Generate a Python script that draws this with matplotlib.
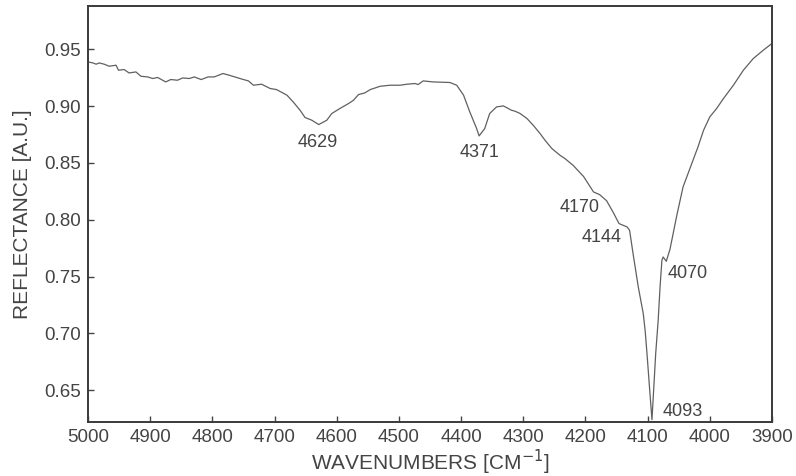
import matplotlib
matplotlib.use("Agg")
import matplotlib.pyplot as plt

# Reflectance spectrum (wavenumber in cm^-1, reflectance in a.u.)
wavenumber = [
    5000, 4992, 4987, 4982, 4974, 4966, 4955, 4951, 4942, 4934,
    4923, 4915, 4904, 4896, 4888, 4875, 4867, 4856, 4848, 4837,
    4829, 4818, 4807, 4797, 4783, 4773, 4761, 4750, 4742, 4734,
    4721, 4707, 4697, 4688, 4680, 4670, 4659, 4651, 4640, 4629,
    4616, 4608, 4595, 4581, 4573, 4565, 4555, 4546, 4530, 4514,
    4498, 4487, 4474, 4469, 4461, 4445, 4418, 4407, 4396, 4386,
    4375, 4371, 4362, 4354, 4343, 4332, 4324, 4319, 4313, 4305,
    4294, 4284, 4273, 4265, 4254, 4241, 4233, 4220, 4203, 4187,
    4177, 4166, 4155, 4146, 4133, 4129, 4123, 4115, 4107, 4104,
    4101, 4097, 4093, 4090, 4087, 4083, 4080, 4077, 4075, 4070,
    4064, 4053, 4043, 4027, 4019, 4010, 4000, 3989, 3978, 3962,
    3946, 3930, 3914, 3900,
]
reflectance = [
    0.9388, 0.9379, 0.9368, 0.9379, 0.9368, 0.9350, 0.9359, 0.9315, 0.9321, 0.9291,
    0.9300, 0.9262, 0.9256, 0.9242, 0.9251, 0.9212, 0.9233, 0.9227, 0.9247, 0.9242,
    0.9256, 0.9233, 0.9256, 0.9256, 0.9286, 0.9271, 0.9251, 0.9233, 0.9221, 0.9183,
    0.9192, 0.9154, 0.9145, 0.9119, 0.9095, 0.9036, 0.8963, 0.8899, 0.8875, 0.8837,
    0.8875, 0.8934, 0.8978, 0.9022, 0.9051, 0.9101, 0.9115, 0.9145, 0.9174, 0.9183,
    0.9183, 0.9192, 0.9198, 0.9189, 0.9221, 0.9212, 0.9207, 0.9183, 0.9095, 0.8948,
    0.8802, 0.8737, 0.8802, 0.8934, 0.8992, 0.9001, 0.8978, 0.8963, 0.8954, 0.8934,
    0.8890, 0.8831, 0.8758, 0.8699, 0.8626, 0.8567, 0.8538, 0.8479, 0.8380, 0.8244,
    0.8220, 0.8167, 0.8061, 0.7966, 0.7936, 0.7907, 0.7687, 0.7408, 0.7174, 0.7027,
    0.6822, 0.6528, 0.6240, 0.6528, 0.6822, 0.7115, 0.7408, 0.7643, 0.7672, 0.7634,
    0.7740, 0.8039, 0.8288, 0.8523, 0.8640, 0.8787, 0.8904, 0.8978, 0.9066, 0.9183,
    0.9315, 0.9418, 0.9491, 0.9550,
]

# Band labels and where each one sits
peak_labels = ["4629", "4371", "4170", "4144", "4070", "4093"]
peak_label_x = [4630, 4371, 4210, 4174, 4035, 4043]
peak_label_y = [0.868, 0.859, 0.811, 0.784, 0.753, 0.631]

x_ticks = list(range(5000, 3899, -100))
y_ticks = [0.65, 0.70, 0.75, 0.80, 0.85, 0.90, 0.95]

text_color = "#444444"
plt.rcParams["font.family"] = ["Liberation Sans", "DejaVu Sans"]

fig = plt.figure(figsize=(7.96, 4.76), dpi=100)
ax = fig.add_axes([0.1106, 0.1134, 0.8592, 0.874])

ax.plot(wavenumber, reflectance, color="#606060", linewidth=0.9)

for label, lx, ly in zip(peak_labels, peak_label_x, peak_label_y):
    ax.text(lx, ly, label, ha="center", va="center",
            fontsize=13, color=text_color)

ax.set_xlim(5000, 3900)
ax.set_ylim(0.622, 0.988)
ax.set_xticks(x_ticks)
ax.set_yticks(y_ticks)
ax.set_yticklabels([f"{v:.2f}" for v in y_ticks])

ax.tick_params(direction="in", length=4, width=1.0, color="#444444",
               labelsize=13.5, labelcolor=text_color, pad=5)

for spine in ax.spines.values():
    spine.set_color("#3a3a3a")
    spine.set_linewidth(1.4)

ax.set_xlabel("WAVENUMBERS [CM$^{-1}$]", fontsize=15, color=text_color,
              labelpad=1)
ax.set_ylabel("REFLECTANCE [A.U.]", fontsize=15, color=text_color,
              labelpad=9)

fig.savefig("out.png", dpi=100)
